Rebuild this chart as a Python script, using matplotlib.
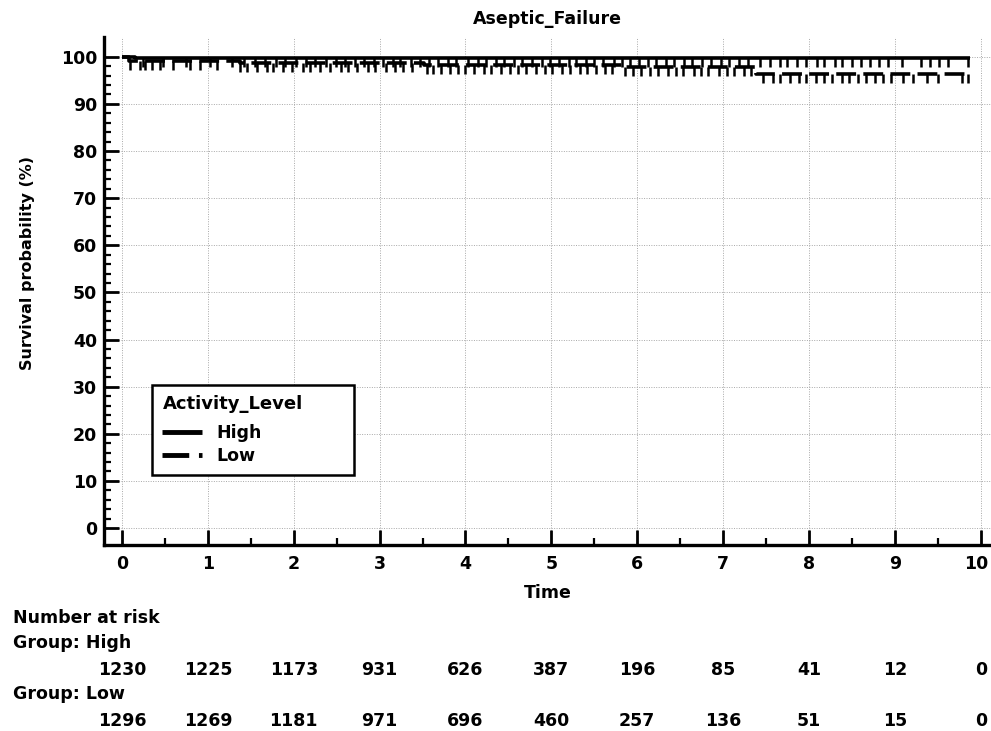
import matplotlib
matplotlib.use('Agg')
import matplotlib.pyplot as plt
import matplotlib.transforms as mtransforms
import numpy as np

plt.rcParams['font.family'] = ['DejaVu Sans']

# Kaplan-Meier steps (time in years, survival in %)
high_step_t = [0.0, 0.15, 9.87]
high_step_s = [100.0, 99.7, 99.7]
low_step_t = [0.0, 0.08, 1.37, 3.52, 5.82, 7.38, 9.87]
low_step_s = [100.0, 99.1, 98.6, 98.3, 97.9, 96.3, 96.3]

# censored observations (tick marks)
high_censor_t = [0.24, 0.48, 0.75, 1.02, 1.28, 1.42, 1.55, 1.66, 1.79, 1.9, 2.03, 2.14,
                 2.25, 2.38, 2.49, 2.6, 2.71, 2.82, 2.94, 3.04, 3.15, 3.24, 3.36, 3.47,
                 3.58, 3.68, 3.8, 3.89, 4.03, 4.14, 4.24, 4.35, 4.45, 4.57, 4.66, 4.78,
                 4.89, 4.98, 5.09, 5.2, 5.29, 5.4, 5.5, 5.6, 5.73, 5.82, 5.92, 6.02,
                 6.13, 6.22, 6.34, 6.43, 6.55, 6.64, 6.75, 6.86, 6.97, 7.07, 7.18, 7.29,
                 7.43, 7.55, 7.66, 7.75, 7.86, 7.97, 8.09, 8.18, 8.3, 8.39, 8.5, 8.61,
                 8.71, 8.82, 8.92, 9.08, 9.31, 9.41, 9.52, 9.62, 9.85]
low_censor_t = [0.09, 0.21, 0.27, 0.35, 0.44, 0.59, 0.79, 0.91, 1.11, 1.37, 1.46, 1.57,
                1.69, 1.76, 1.87, 1.98, 2.11, 2.19, 2.31, 2.42, 2.55, 2.63, 2.74, 2.86,
                2.95, 3.07, 3.18, 3.27, 3.38, 3.55, 3.62, 3.71, 3.82, 3.91, 4.0, 4.1,
                4.21, 4.3, 4.41, 4.52, 4.61, 4.7, 4.82, 4.93, 5.01, 5.12, 5.22, 5.33,
                5.41, 5.52, 5.63, 5.71, 5.86, 5.95, 6.04, 6.15, 6.24, 6.36, 6.45, 6.53,
                6.66, 6.74, 6.83, 6.95, 7.04, 7.13, 7.24, 7.33, 7.47, 7.58, 7.66, 7.78,
                7.88, 7.96, 8.08, 8.18, 8.27, 8.38, 8.47, 8.57, 8.66, 8.77, 8.86, 8.96,
                9.09, 9.21, 9.38, 9.5, 9.78, 9.85]

risk_times = [0, 1, 2, 3, 4, 5, 6, 7, 8, 9, 10]
risk_high = [1230, 1225, 1173, 931, 626, 387, 196, 85, 41, 12, 0]
risk_low = [1296, 1269, 1181, 971, 696, 460, 257, 136, 51, 15, 0]


def level_at(step_t, step_s, times):
    idx = np.searchsorted(step_t, times, side='right') - 1
    return np.asarray(step_s)[idx]


fig = plt.figure(figsize=(9.91, 7.31), dpi=100)
ax = fig.add_axes([104 / 991, 1 - 545 / 731, 887 / 991, 508 / 731])

lw = 2.6
tick_len = 1.9
ax.step(high_step_t, high_step_s, where='post', color='black', lw=lw,
        solid_capstyle='butt', label='High')
ax.step(low_step_t, low_step_s, where='post', color='black', lw=lw,
        linestyle=(0, (5.5, 2.0)), dash_capstyle='butt', label='Low')

hl = level_at(high_step_t, high_step_s, high_censor_t)
ax.vlines(high_censor_t, hl - tick_len, hl, color='black', lw=1.8)
ll = level_at(low_step_t, low_step_s, low_censor_t)
ax.vlines(low_censor_t, ll - tick_len, ll, color='black', lw=1.8)

ax.set_xlim(-0.21, 10.12)
ax.set_ylim(-3.6, 104.2)
ax.set_xticks(range(0, 11))
ax.set_xticks(np.arange(0.5, 10, 1.0), minor=True)
ax.set_yticks(range(0, 101, 10))
ax.set_yticks(range(0, 101, 2), minor=True)

ax.grid(True, which='major', linestyle=(0, (1, 1.5)), color='#a8a8a8', lw=0.7)
ax.set_axisbelow(True)

for side in ['top', 'right']:
    ax.spines[side].set_visible(False)
for side in ['left', 'bottom']:
    ax.spines[side].set_linewidth(2.4)

ax.tick_params(which='major', direction='in', length=11, width=2.0, labelsize=12.5)
ax.tick_params(which='minor', direction='in', length=5, width=1.6)
ax.tick_params(axis='x', which='major', pad=7)
ax.tick_params(axis='y', which='major', pad=5)
for lab in ax.get_xticklabels() + ax.get_yticklabels():
    lab.set_fontweight('bold')

# keep the "10" label inside the figure
last_tick = ax.xaxis.get_major_ticks()[-1]
last_tick.label1.set_transform(last_tick.label1.get_transform()
                               + mtransforms.ScaledTranslation(-3 / 72, 0, fig.dpi_scale_trans))

ax.set_title('Aseptic_Failure', fontsize=12.5, fontweight='bold', pad=9)
ax.set_xlabel('Time', fontsize=12.5, fontweight='bold', labelpad=8)
ax.set_ylabel('Survival probability (%)', fontsize=11.5, fontweight='bold')
ax.yaxis.set_label_coords(-0.078, 0.555)

leg = ax.legend(title='Activity_Level', loc='lower left',
                bbox_to_anchor=(48 / 887, 70 / 508, 202 / 887, 0.1), mode='expand',
                borderaxespad=0, fancybox=False, edgecolor='black', framealpha=1,
                prop={'weight': 'bold', 'size': 12.5}, handlelength=2.3,
                alignment='left', labelspacing=0.25, borderpad=0.6)
leg.get_frame().set_linewidth(1.8)
leg.get_title().set_fontweight('bold')
leg.get_title().set_fontsize(13)
leg._legend_box.sep = 8
for line in leg.get_lines():
    line.set_linewidth(3.5)

# number at risk table
tr = mtransforms.blended_transform_factory(ax.transData, fig.transFigure)
fs = 12.5
fig.text(13 / 991, 1 - 618 / 731, 'Number at risk', fontsize=fs, fontweight='bold', va='center')
fig.text(13 / 991, 1 - 643 / 731, 'Group: High', fontsize=fs, fontweight='bold', va='center')
fig.text(13 / 991, 1 - 694 / 731, 'Group: Low', fontsize=fs, fontweight='bold', va='center')
for t, n in zip(risk_times, risk_high):
    ax.text(t, 1 - 670 / 731, str(n), transform=tr, ha='center', va='center',
            fontsize=fs, fontweight='bold')
for t, n in zip(risk_times, risk_low):
    ax.text(t, 1 - 721 / 731, str(n), transform=tr, ha='center', va='center',
            fontsize=fs, fontweight='bold')

fig.savefig('out.png', dpi=100)
